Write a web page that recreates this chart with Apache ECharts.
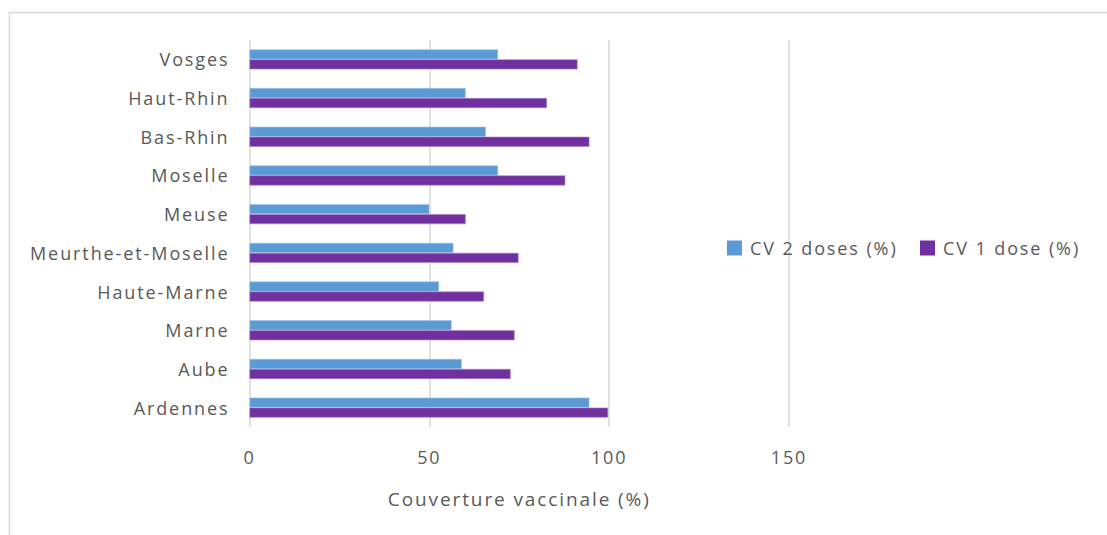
<!DOCTYPE html>
<html>
<head>
<meta charset="utf-8">
<script src="https://cdn.jsdelivr.net/npm/echarts@6/dist/echarts.min.js"></script>
<style>
  html, body { margin: 0; padding: 0; background: #ffffff; }
  #chart { width: 1107px; height: 535px; }
  /* Office-style text is set with loose tracking */
  #chart text { letter-spacing: 1.9px; }
</style>
</head>
<body>
<div id="chart"></div>
<script>
// Départements, listed bottom to top along the category axis
const departements = ['Ardennes', 'Aube', 'Marne', 'Haute-Marne', 'Meurthe-et-Moselle',
  'Meuse', 'Moselle', 'Bas-Rhin', 'Haut-Rhin', 'Vosges'];
const cv2doses = [94.5, 59.0, 56.2, 52.7, 56.7, 50.0, 69.1, 65.7, 60.1, 69.1];
const cv1dose = [99.7, 72.6, 73.7, 65.2, 74.8, 60.1, 87.8, 94.5, 82.7, 91.2];
const xTicks = [0, 50, 100, 150];
const seriesNames = ['CV 2 doses (%)', 'CV 1 dose (%)'];
const axisTitle = 'Couverture vaccinale (%)';

const FONT = '"Open Sans", Lato, sans-serif';
const TEXT = '#595959';
const SIZE = 18;
const BLUE = '#5b9bd5';
const PURPLE = '#7030a0';

function legendItem(name, left) {
  return {
    data: [name], left: left, top: 239, padding: 0,
    itemWidth: 15, itemHeight: 15, itemGap: 0,
    icon: 'rect',
    itemStyle: { borderWidth: 0 },
    textStyle: { fontFamily: FONT, fontSize: SIZE, color: TEXT, padding: [0, 0, 0, 3] }
  };
}

const chart = echarts.init(document.getElementById('chart'), null, { renderer: 'svg' });
chart.setOption({
  animation: false,
  backgroundColor: '#ffffff',
  textStyle: { fontFamily: FONT, color: TEXT },
  grid: { left: 249.5, right: 318, top: 40, bottom: 108, containLabel: false },
  legend: [legendItem(seriesNames[0], 727), legendItem(seriesNames[1], 920)],
  xAxis: {
    type: 'value',
    min: xTicks[0], max: xTicks[xTicks.length - 1], interval: 50,
    axisLine: { show: false },
    axisTick: { show: false },
    axisLabel: { fontFamily: FONT, fontSize: SIZE, color: TEXT, margin: 21 },
    splitLine: { show: true, lineStyle: { color: '#d9d9d9', width: 1.5 } },
    name: axisTitle,
    nameLocation: 'middle',
    nameGap: 62,
    nameTextStyle: { fontFamily: FONT, fontSize: 19, color: TEXT }
  },
  yAxis: {
    type: 'category',
    data: departements,
    axisLine: { show: false },
    axisTick: { show: false },
    axisLabel: { fontFamily: FONT, fontSize: SIZE, color: TEXT, margin: 20 },
    splitLine: { show: false }
  },
  series: [
    {
      name: seriesNames[0], type: 'bar', data: cv2doses,
      barWidth: 10, barGap: '0%',
      itemStyle: { color: BLUE, borderColor: '#9dc3e6', borderWidth: 0.6 }
    },
    {
      name: seriesNames[1], type: 'bar', data: cv1dose,
      barWidth: 10, barGap: '0%',
      itemStyle: { color: PURPLE, borderColor: '#a983c6', borderWidth: 0.6 }
    }
  ],
  graphic: [
    {
      type: 'rect', silent: true,
      shape: { x: 9.5, y: 12.5, width: 1200, height: 600 },
      style: { fill: 'none', stroke: '#d9d9d9', lineWidth: 1.5 }
    }
  ]
});
</script>
</body>
</html>
